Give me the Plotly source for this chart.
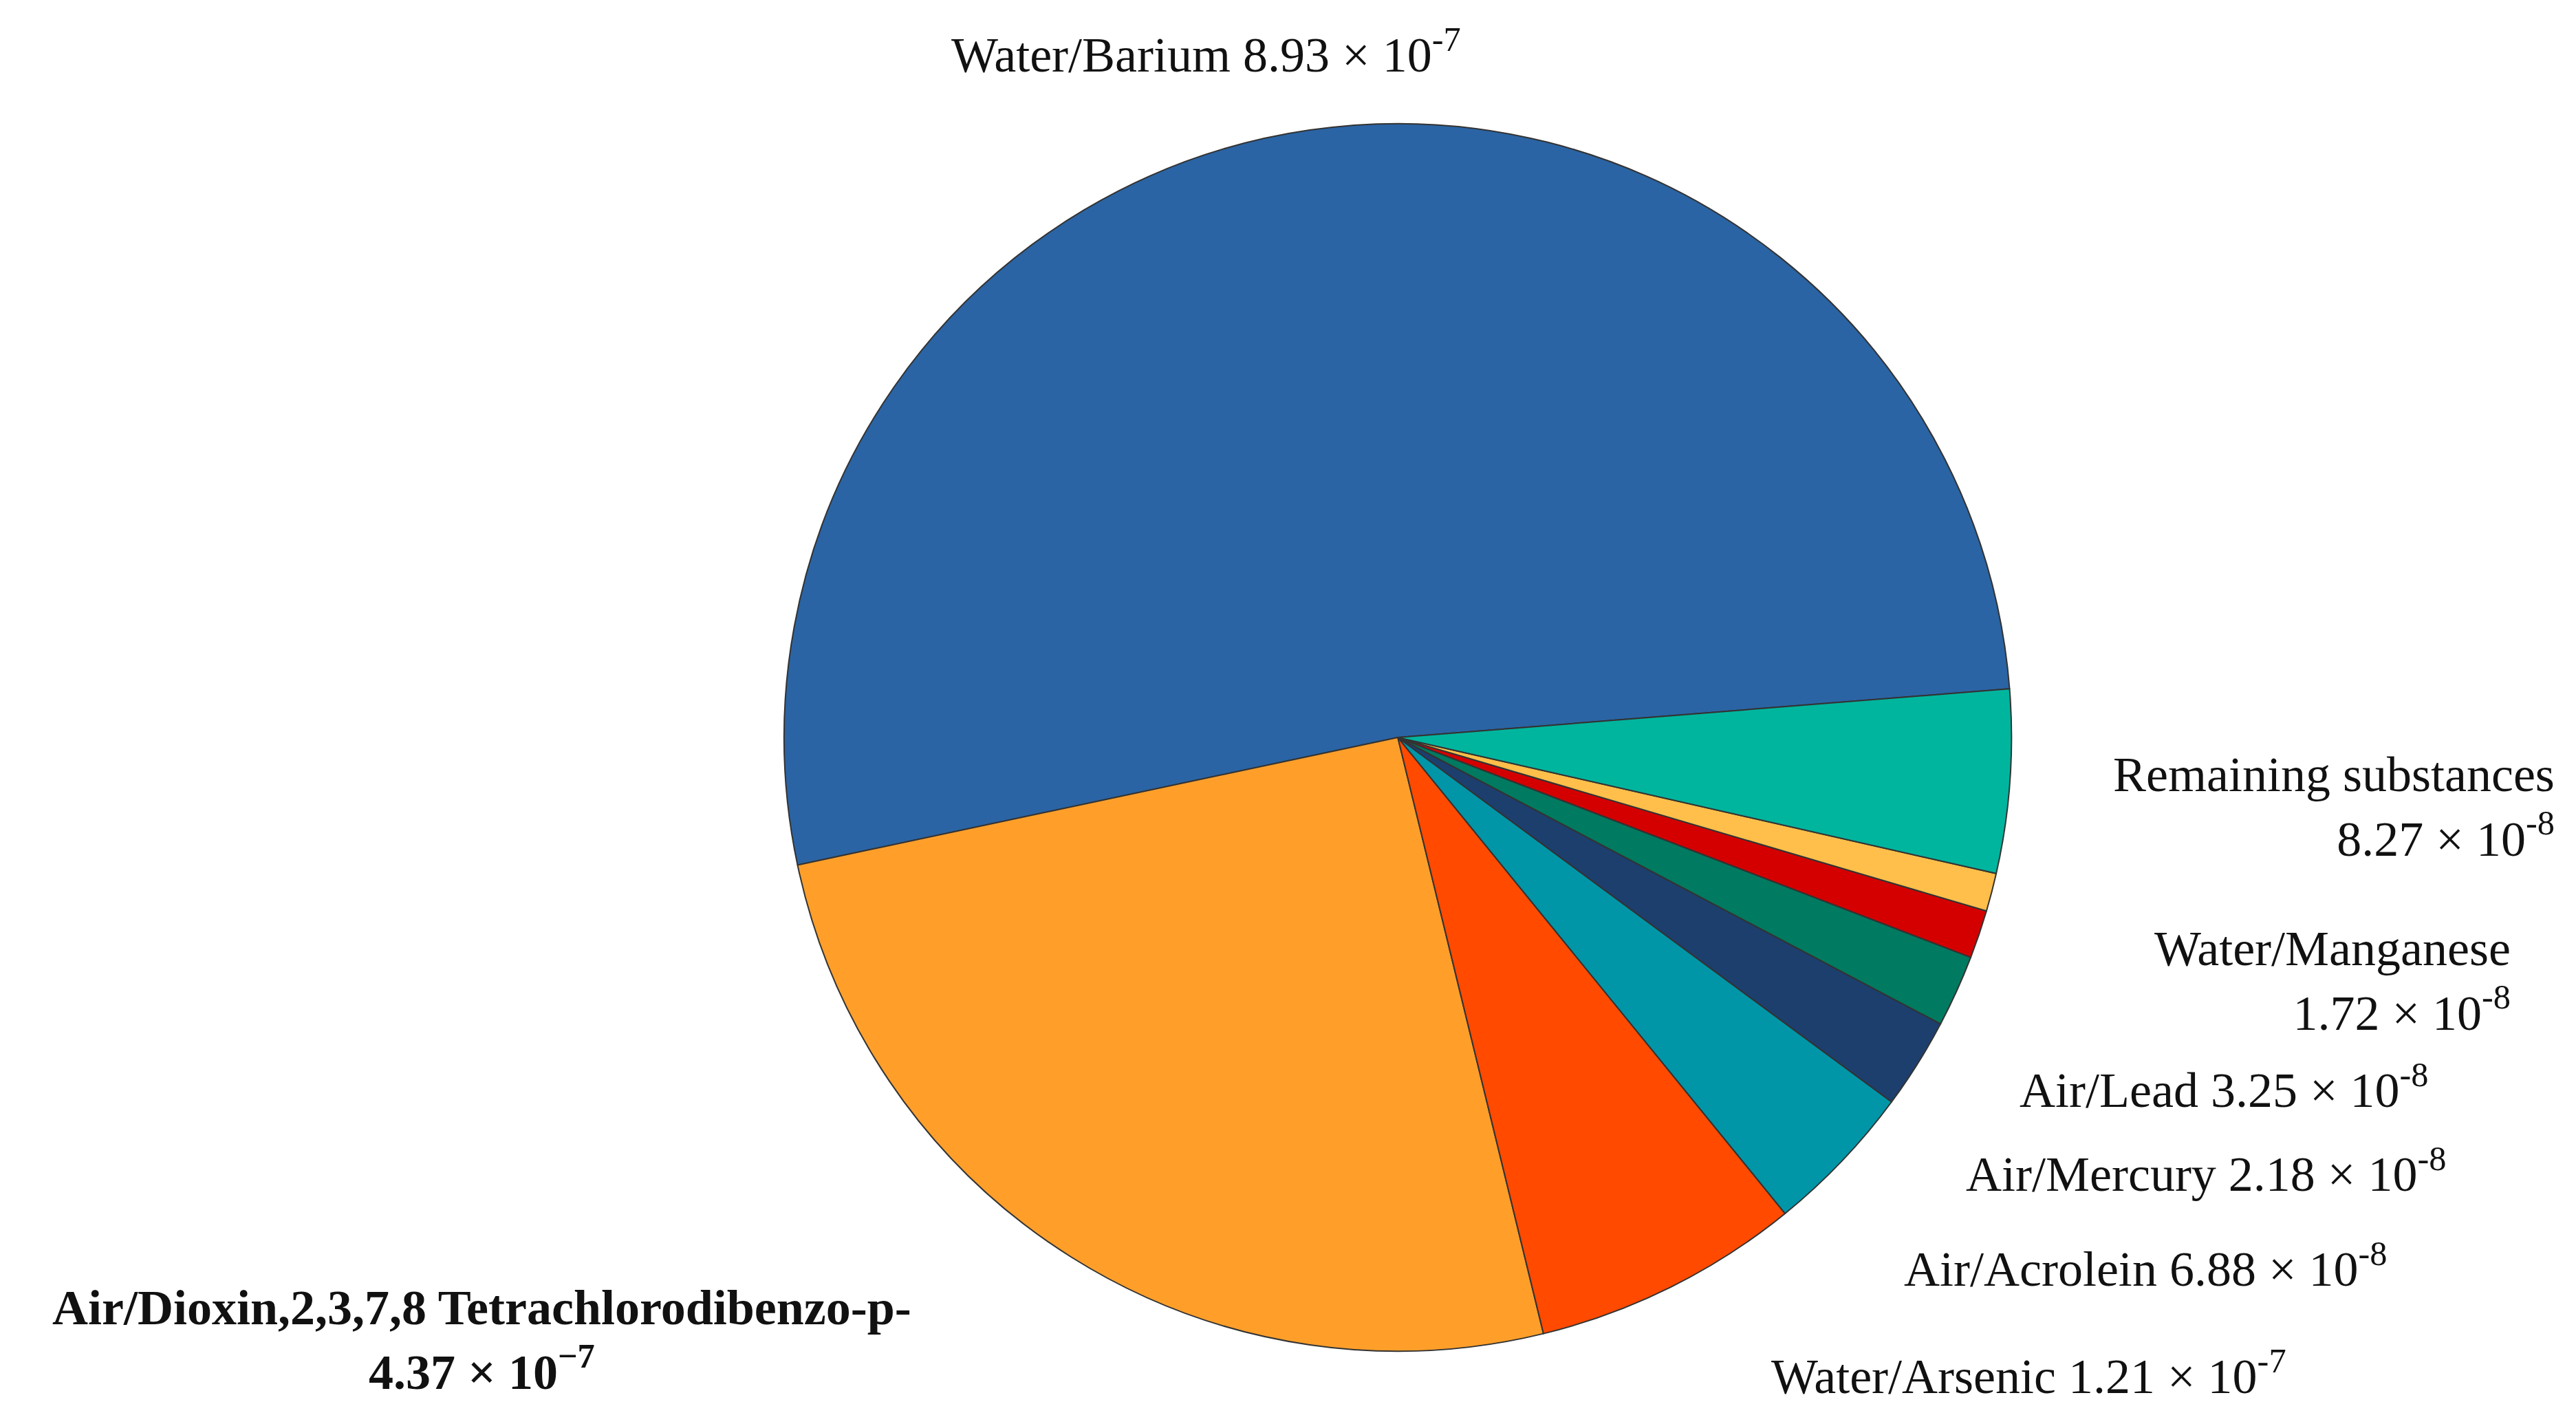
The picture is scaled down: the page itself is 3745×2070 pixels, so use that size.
import plotly.graph_objects as go

labels = ["Water/Barium", "Air/Dioxin,2,3,7,8 Tetrachlorodibenzo-p-", "Water/Arsenic",
          "Air/Acrolein", "Air/Mercury", "Air/Lead", "Other", "Water/Manganese", "Remaining substances"]
values = [8.93e-7, 4.37e-7, 1.21e-7, 6.88e-8, 4.1e-8, 3.25e-8, 2.18e-8, 1.72e-8, 8.27e-8]
colors = ["#2A64A4", "#FF9F2A", "#FF4A00", "#0096A8", "#1C3F6E", "#007A60", "#D40000", "#FFBF4A", "#00B59E"]

fig = go.Figure(go.Pie(
    labels=labels, values=values, sort=False, direction="counterclockwise", rotation=-102,
    marker=dict(colors=colors, line=dict(color="#333333", width=2)),
    textinfo="none", hoverinfo="label+value",
    domain=dict(x=[0.302, 0.779], y=[0.055, 0.917]), showlegend=False))

F = "Liberation Serif"
ann = [
    (0.466, 0.968, "Water/Barium 8.93 × 10<sup>-7</sup>", "center"),
    (0.99, 0.437, "Remaining substances<br>8.27 × 10<sup>-8</sup>", "right"),
    (0.973, 0.315, "Water/Manganese<br>1.72 × 10<sup>-8</sup>", "right"),
    (0.941, 0.241, "Air/Lead 3.25 × 10<sup>-8</sup>", "right"),
    (0.948, 0.182, "Air/Mercury 2.18 × 10<sup>-8</sup>", "right"),
    (0.925, 0.115, "Air/Acrolein 6.88 × 10<sup>-8</sup>", "right"),
    (0.886, 0.04, "Water/Arsenic 1.21 × 10<sup>-7</sup>", "right"),
    (0.185, 0.063, "<b>Air/Dioxin,2,3,7,8 Tetrachlorodibenzo-p-<br>4.37 × 10<sup>−7</sup></b>", "center"),
]
annotations = []
for x, y, t, al in ann:
    annotations.append(dict(x=x, y=y, xref="paper", yref="paper", text=t, showarrow=False,
                            align=al, xanchor="center" if al == "center" else "right",
                            yanchor="middle", font=dict(family=F, size=72, color="#111")))

fig.update_layout(width=3745, height=2070, margin=dict(l=0, r=0, t=0, b=0),
                  paper_bgcolor="white", annotations=annotations)
fig.write_html("out.html")
